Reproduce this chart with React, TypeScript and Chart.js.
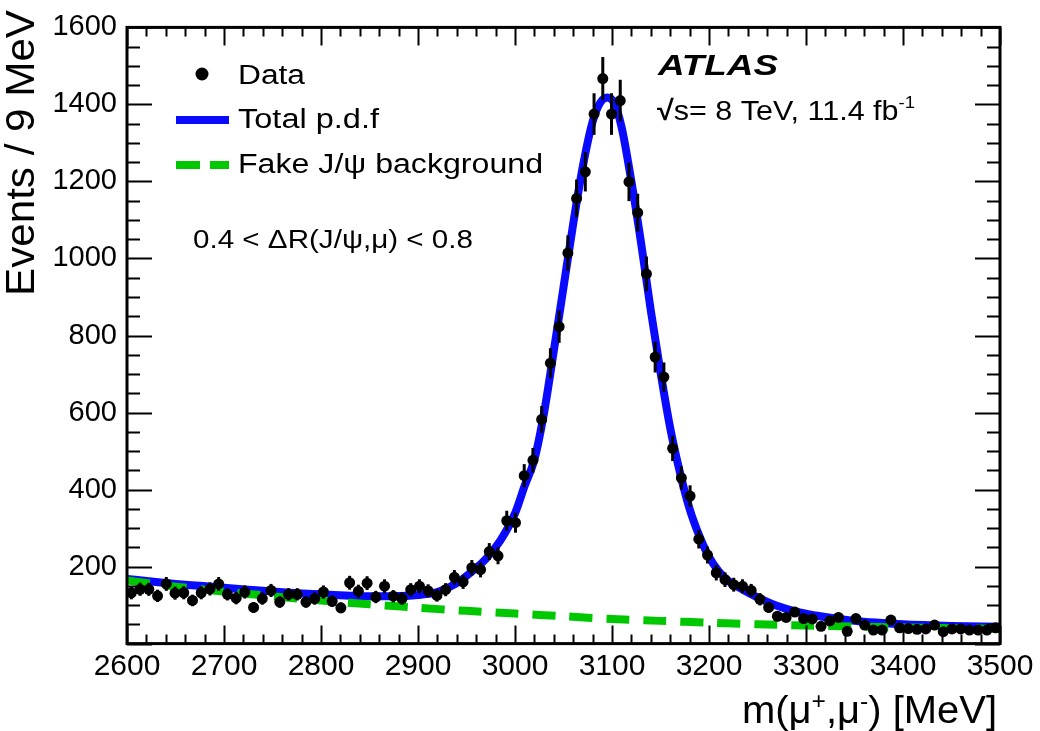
import React, { useEffect, useRef } from 'react';
import { Chart, registerables } from 'chart.js';

Chart.register(...registerables);

// Histogram definition (MeV)
const BIN_START = 2600;
const BIN_WIDTH = 9;

// Events per 9 MeV bin (100 bins, 2600-3500 MeV)
const dataCounts = [
  132, 141, 141, 124, 155, 131, 132, 112, 132, 142,
  155, 128, 118, 134, 94, 117, 138, 108, 128, 128,
  108, 117, 134, 110, 93, 158, 136, 157, 121, 149,
  123, 117, 140, 149, 137, 125, 140, 172, 160, 197,
  192, 239, 228, 319, 314, 436, 476, 582, 728, 823,
  1014, 1156, 1225, 1375, 1467, 1375, 1410, 1199, 1119, 960,
  744, 692, 507, 430, 383, 271, 230, 184, 166, 153,
  149, 138, 115, 94, 71, 68, 82, 65, 64, 45,
  59, 68, 32, 65, 48, 35, 35, 61, 41, 39,
  37, 38, 48, 31, 38, 38, 35, 35, 35, 41,
];

// Vertical error bar half-lengths for each bin
const dataErrors = [
  17, 17, 17, 16, 18, 17, 17, 15, 17, 17,
  18, 16, 16, 17, 14, 16, 17, 15, 16, 16,
  15, 16, 17, 15, 14, 18, 17, 18, 16, 18,
  16, 16, 17, 18, 17, 16, 17, 19, 18, 20,
  20, 22, 22, 26, 26, 30, 32, 35, 39, 42,
  46, 49, 51, 54, 56, 54, 54, 50, 49, 45,
  40, 38, 33, 30, 28, 24, 22, 20, 19, 18,
  18, 17, 16, 14, 12, 12, 13, 12, 12, 10,
  11, 12, 8, 12, 10, 9, 9, 11, 9, 9,
  9, 9, 10, 8, 9, 9, 9, 9, 9, 9,
];

// Total p.d.f curve
const totalPdfX = [
  2600, 2625, 2650, 2675, 2700, 2725, 2750, 2775, 2800, 2825,
  2850, 2875, 2900, 2920, 2940, 2955, 2970, 2985, 3000, 3010,
  3020, 3030, 3040, 3050, 3060, 3070, 3080, 3088, 3095, 3102,
  3110, 3120, 3130, 3140, 3150, 3160, 3170, 3180, 3190, 3200,
  3210, 3220, 3235, 3250, 3270, 3290, 3310, 3330, 3350, 3375,
  3400, 3450, 3500,
];
const totalPdfY = [
  168, 161, 155, 150, 145, 140, 135, 131, 128, 125,
  123, 123, 126, 134, 157, 186, 220, 268, 338, 410,
  478, 600, 760, 925, 1090, 1240, 1355, 1405, 1418, 1405,
  1340, 1200, 1040, 865, 705, 560, 445, 350, 280, 225,
  188, 163, 140, 120, 98, 83, 73, 65, 59, 54,
  50, 46, 44,
];

// Fake J/psi background curve
const bkgX = [
  2600, 2650, 2700, 2750, 2800, 2850, 2900, 2950, 3000, 3050,
  3100, 3150, 3200, 3250, 3300, 3350, 3400, 3450, 3500,
];
const bkgY = [
  164, 148, 135, 123, 112, 102, 93, 85, 78, 71,
  64, 59, 54, 50, 47, 44, 42, 40, 38,
];

// Tick labels
const xTickValues = [2600, 2700, 2800, 2900, 3000, 3100, 3200, 3300, 3400, 3500];
const yTickValues = [0, 200, 400, 600, 800, 1000, 1200, 1400, 1600];

const FONT = '"Liberation Sans", Arial, Helvetica, sans-serif';
const BLUE = '#0a0aff';
const GREEN = '#00c800';

type Part = { text: string; size: number; weight?: string; style?: string; dy?: number };

function partFont(p: Part) {
  return `${p.style || 'normal'} ${p.weight || 'normal'} ${p.size}px ${FONT}`;
}

// draw a run of text parts, stretched to a target width; (x, y) = left baseline
function drawRun(ctx: CanvasRenderingContext2D, parts: Part[], x: number, y: number, targetWidth: number, align: 'left' | 'right' = 'left') {
  ctx.save();
  let natural = 0;
  const widths = parts.map((p) => {
    ctx.font = partFont(p);
    const w = ctx.measureText(p.text).width;
    natural += w;
    return w;
  });
  const sx = targetWidth / natural;
  const startX = align === 'right' ? x - targetWidth : x;
  ctx.translate(startX, y);
  ctx.scale(sx, 1);
  ctx.fillStyle = '#000';
  ctx.textAlign = 'left';
  ctx.textBaseline = 'alphabetic';
  let cx = 0;
  parts.forEach((p, i) => {
    ctx.font = partFont(p);
    ctx.fillText(p.text, cx, p.dy || 0);
    cx += widths[i];
  });
  ctx.restore();
}

export default function App() {
  const ref = useRef<HTMLCanvasElement>(null);

  useEffect(() => {
    document.body.style.margin = '0';
    const canvas = ref.current;
    if (!canvas) return;

    const dataPoints = dataCounts.map((v, i) => ({ x: BIN_START + BIN_WIDTH * (i + 0.5), y: v }));
    const pdfPoints = totalPdfX.map((x, i) => ({ x, y: totalPdfY[i] }));
    const bkgPoints = bkgX.map((x, i) => ({ x, y: bkgY[i] }));

    const errorBars = {
      id: 'errorBars',
      beforeDatasetDraw(chart: any, args: any) {
        if (args.index !== 0) return;
        const ctx = chart.ctx as CanvasRenderingContext2D;
        const xs = chart.scales.x;
        const ys = chart.scales.y;
        ctx.save();
        ctx.strokeStyle = '#000';
        ctx.lineWidth = 3;
        dataPoints.forEach((p, i) => {
          const px = xs.getPixelForValue(p.x);
          ctx.beginPath();
          ctx.moveTo(px, ys.getPixelForValue(p.y - dataErrors[i]));
          ctx.lineTo(px, ys.getPixelForValue(p.y + dataErrors[i]));
          ctx.stroke();
        });
        ctx.restore();
      },
    };

    const frame = {
      id: 'frame',
      afterDraw(chart: any) {
        const ctx = chart.ctx as CanvasRenderingContext2D;
        const { left, right, top, bottom } = chart.chartArea;
        const xs = chart.scales.x;
        const ys = chart.scales.y;
        ctx.save();
        ctx.strokeStyle = '#000';
        ctx.lineWidth = 2;
        ctx.beginPath();
        for (let v = 2600; v <= 3500; v += 20) {
          const px = Math.round(xs.getPixelForValue(v)) + 0.5;
          const len = v % 100 === 0 ? 18 : 9;
          ctx.moveTo(px, bottom);
          ctx.lineTo(px, bottom - len);
          ctx.moveTo(px, top);
          ctx.lineTo(px, top + len);
        }
        for (let v = 0; v <= 1600; v += 50) {
          const py = Math.round(ys.getPixelForValue(v)) + 0.5;
          const len = v % 200 === 0 ? 25 : 13;
          ctx.moveTo(left, py);
          ctx.lineTo(left + len, py);
          ctx.moveTo(right, py);
          ctx.lineTo(right - len, py);
        }
        ctx.stroke();
        ctx.lineWidth = 3;
        ctx.strokeRect(left, top, right - left, bottom - top);

        // Legend
        ctx.fillStyle = '#000';
        ctx.beginPath();
        ctx.arc(202, 74, 6.5, 0, Math.PI * 2);
        ctx.fill();
        drawRun(ctx, [{ text: 'Data', size: 27 }], 238, 84, 67);

        ctx.fillStyle = BLUE;
        ctx.fillRect(176, 116, 53, 8);
        drawRun(ctx, [{ text: 'Total p.d.f', size: 27 }], 238, 128, 141);

        ctx.fillStyle = GREEN;
        ctx.fillRect(176, 161, 24, 8);
        ctx.fillRect(210, 161, 19, 8);
        drawRun(ctx, [{ text: 'Fake J/\u03c8 background', size: 27 }], 238, 173, 305);

        drawRun(ctx, [{ text: '0.4 < \u0394R(J/\u03c8,\u03bc) < 0.8', size: 25 }], 193, 248, 280);

        // ATLAS label
        drawRun(ctx, [{ text: 'ATLAS', size: 29, weight: 'bold', style: 'italic' }], 658, 75, 120);
        drawRun(
          ctx,
          [
            { text: '\u221a', size: 28, weight: 'bold' },
            { text: 's= 8 TeV, 11.4 fb', size: 28 },
            { text: '-1', size: 17, dy: -12 },
          ],
          657,
          120,
          258,
        );

        // Axis titles
        drawRun(
          ctx,
          [
            { text: 'm(\u03bc', size: 39 },
            { text: '+', size: 24, dy: -14 },
            { text: ',\u03bc', size: 39 },
            { text: '-', size: 24, dy: -14 },
            { text: ') [MeV]', size: 39 },
          ],
          997,
          723,
          255,
          'right',
        );

        ctx.save();
        ctx.translate(34, 296);
        ctx.rotate(-Math.PI / 2);
        drawRun(ctx, [{ text: 'Events / 9 MeV', size: 40 }], 0, 0, 286);
        ctx.restore();

        ctx.restore();
      },
    };

    const chart = new Chart(canvas, {
      type: 'scatter',
      data: {
        datasets: [
          {
            label: 'Data',
            data: dataPoints,
            backgroundColor: '#000',
            borderColor: '#000',
            pointRadius: 5.5,
            pointBorderWidth: 0,
            showLine: false,
            order: 0,
          },
          {
            label: 'Fake J/\u03c8 background',
            data: bkgPoints,
            borderColor: GREEN,
            borderWidth: 8,
            borderDash: [23, 14],
            borderCapStyle: 'butt',
            pointRadius: 0,
            showLine: true,
            tension: 0.3,
            order: 1,
          },
          {
            label: 'Total p.d.f',
            data: pdfPoints,
            borderColor: BLUE,
            borderWidth: 8,
            pointRadius: 0,
            showLine: true,
            cubicInterpolationMode: 'monotone',
            order: 2,
          },
        ],
      },
      options: {
        animation: false,
        responsive: false,
        layout: { padding: { left: 0, right: 40, top: 23, bottom: 0 } },
        plugins: {
          legend: { display: false },
          tooltip: { enabled: false },
        },
        scales: {
          x: {
            type: 'linear',
            min: 2600,
            max: 3500,
            afterBuildTicks: (s: any) => {
              s.ticks = xTickValues.map((v) => ({ value: v }));
            },
            afterFit: (s: any) => {
              s.height = 87.4;
            },
            grid: { display: false, drawTicks: false },
            border: { display: false },
            ticks: {
              font: { family: FONT, size: 30 },
              color: '#000',
              padding: 5,
              maxRotation: 0,
              autoSkip: false,
              callback: (v: any) => String(v),
            },
          },
          y: {
            type: 'linear',
            min: 0,
            max: 1600,
            afterBuildTicks: (s: any) => {
              s.ticks = yTickValues.map((v) => ({ value: v }));
            },
            afterFit: (s: any) => {
              s.width = 127;
            },
            grid: { display: false, drawTicks: false },
            border: { display: false },
            ticks: {
              font: { family: FONT, size: 29 },
              color: '#000',
              padding: 10,
              autoSkip: false,
              callback: (v: any) => (v === 0 ? '' : String(v)),
            },
          },
        },
      },
      plugins: [errorBars, frame],
    } as any);

    return () => chart.destroy();
  }, []);

  return (
    <div style={{ width: 1040, height: 731, position: 'relative', background: '#fff' }}>
      <canvas ref={ref} width={1040} height={731} style={{ width: 1040, height: 731, display: 'block' }} />
    </div>
  );
}
